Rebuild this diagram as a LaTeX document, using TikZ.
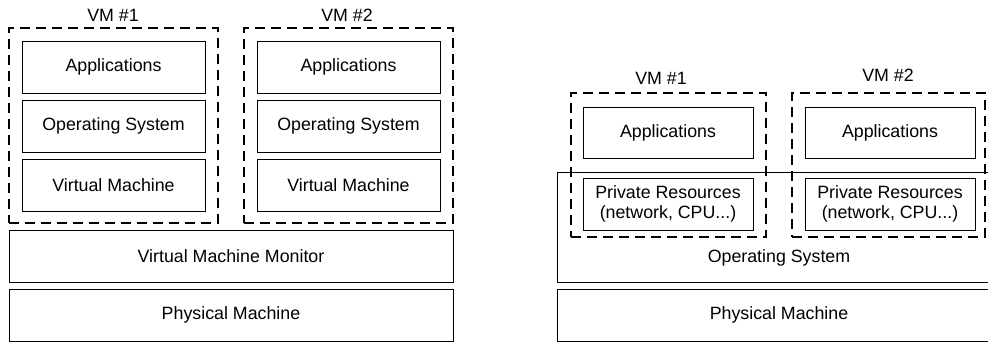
\documentclass[tikz,border=0pt]{standalone}
\usepackage{fontspec}
\setmainfont{Liberation Sans}
\begin{document}
\begin{tikzpicture}[x=1pt,y=1pt,
  every node/.style={font=\fontsize{17.8}{20.5}\selectfont, inner sep=0pt, outer sep=0pt},
  layer/.style={draw=black, line width=0.9pt},
  vmbox/.style={draw=black, line width=1.8pt, dash pattern=on 10pt off 6pt},
  caption/.style={}]
\useasboundingbox (0,0) rectangle (988,-341);
\clip (0,0) rectangle (988,-341);

% ---------- hosted virtualization (left) ----------
\node[layer, minimum width=444pt, minimum height=52pt] (pm1) at (231,-315) {Physical Machine};
\node[layer, minimum width=444pt, minimum height=52pt] (vmm) at (231,-256) {Virtual Machine Monitor};

\node[vmbox, minimum width=209pt, minimum height=195pt] (vmA) at (113.5,-125.5) {};
\node[vmbox, minimum width=209pt, minimum height=195pt] (vmB) at (348.5,-125.5) {};
\node[caption] (vmAlbl) at (113,-15) {VM \#1};
\node[caption] (vmBlbl) at (347,-15) {VM \#2};

\node[layer, minimum width=183pt, minimum height=52pt] (appA) at (113.5,-67) {Applications};
\node[layer, minimum width=183pt, minimum height=52pt] (osA)  at (113.5,-126) {Operating System};
\node[layer, minimum width=183pt, minimum height=52pt] (hwA)  at (113.5,-185) {Virtual Machine};
\node[layer, minimum width=183pt, minimum height=52pt] (appB) at (348.5,-67) {Applications};
\node[layer, minimum width=183pt, minimum height=52pt] (osB)  at (348.5,-126) {Operating System};
\node[layer, minimum width=183pt, minimum height=52pt] (hwB)  at (348.5,-185) {Virtual Machine};

% ---------- OS-level virtualization (right) ----------
\node[layer, minimum width=444pt, minimum height=52pt] (pm2) at (779,-315) {Physical Machine};
\node[layer, minimum width=444pt, minimum height=110pt] (hostos) at (779,-227) {};
\node (hostoslbl) at (779,-258) {Operating System};

\node[vmbox, minimum width=195pt, minimum height=144pt] (vmC) at (668.5,-165) {};
\node[vmbox, minimum width=193pt, minimum height=144pt] (vmD) at (888.5,-165) {};
\node[caption] (vmClbl) at (661,-78) {VM \#1};
\node[caption] (vmDlbl) at (888,-75) {VM \#2};

\node[layer, minimum width=170pt, minimum height=51pt] (appC) at (668,-132.5) {Applications};
\node[layer, minimum width=170pt, minimum height=52pt, align=center] (resC) at (668,-204)
  {Private Resources\\(network, CPU...)};
\node[layer, minimum width=170pt, minimum height=51pt] (appD) at (890,-132.5) {Applications};
\node[layer, minimum width=170pt, minimum height=52pt, align=center] (resD) at (890,-204)
  {Private Resources\\(network, CPU...)};
\end{tikzpicture}
\end{document}
